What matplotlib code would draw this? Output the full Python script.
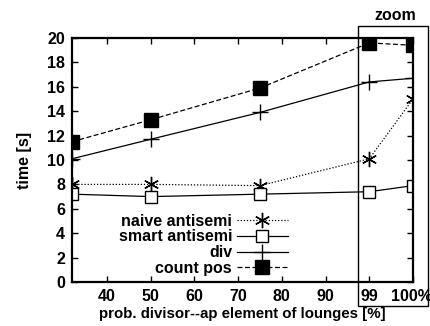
import matplotlib.pyplot as plt
import matplotlib.transforms as mtransforms
from matplotlib.patches import Rectangle
from matplotlib.scale import FuncScale
import numpy as np

plt.rcParams['font.family'] = ['Liberation Sans', 'DejaVu Sans']
plt.rcParams['font.weight'] = 'bold'
plt.rcParams['axes.labelweight'] = 'bold'

# Data
x = [32, 50, 75, 99, 100]
naive = [8.0, 8.0, 7.9, 10.1, 15.0]
smart = [7.2, 7.0, 7.2, 7.4, 7.9]
div = [10.1, 11.7, 13.9, 16.4, 16.7]
count_pos = [11.5, 13.3, 15.9, 19.6, 19.4]

xticks = [40, 50, 60, 70, 80, 90, 99, 100]
xticklabels = ['40', '50', '60', '70', '80', '90', '99', '100%']
yticks = [0, 2, 4, 6, 8, 10, 12, 14, 16, 18, 20]


# linear up to 90, then 90..99 stretched a bit, 99..100 zoomed
def fwd(v):
    v = np.asarray(v, dtype=float)
    return np.where(v <= 90, v, np.where(v <= 99, 90 + (v - 90) * 10 / 9, 100 + (v - 99) * 10))


def inv(p):
    p = np.asarray(p, dtype=float)
    return np.where(p <= 90, p, np.where(p <= 100, 90 + (p - 90) * 9 / 10, 99 + (p - 100) / 10))


fs = 11.5

fig = plt.figure(figsize=(4.31, 3.26), dpi=100)
ax = fig.add_axes([72 / 431, 44 / 326, 341 / 431, 244 / 326])
ax.set_xscale(FuncScale(ax.xaxis, (fwd, inv)))

ax.plot(x, naive, color='black', lw=0.9, ls=(0, (1, 1.5)),
        marker=(6, 2, 0), ms=11, mew=1.0, label='naive antisemi')
ax.plot(x, smart, color='black', lw=0.9, ls='-',
        marker='s', ms=8.5, mfc='white', mew=1.0, label='smart antisemi')
ax.plot(x, div, color='black', lw=0.9, ls='-',
        marker='+', ms=12, mew=1.0, label='div')
ax.plot(x, count_pos, color='black', lw=0.9, ls=(0, (4, 2)),
        marker='s', ms=9.5, mfc='black', label='count pos')

ax.set_xlim(32, 100)
ax.set_ylim(0, 20)
ax.set_xticks(xticks)
ax.set_xticklabels(xticklabels)
ax.set_yticks(yticks)
ax.minorticks_off()
ax.tick_params(direction='in', top=True, right=True, length=4, width=1,
               labelsize=fs, pad=5)
for s in ax.spines.values():
    s.set_linewidth(1.6)

# nudge "100%" a little left so it stays inside the figure
last = ax.get_xticklabels()[-1]
last.set_transform(last.get_transform() +
                   mtransforms.ScaledTranslation(-2 / 100, 0, fig.dpi_scale_trans))

ax.set_xlabel('prob. divisor--ap element of lounges [%]', fontsize=10.8, labelpad=2.5)
ax.set_ylabel('time [s]', fontsize=fs, labelpad=11)

leg = ax.legend(loc='lower right', bbox_to_anchor=(288 / 431, 50 / 326),
                bbox_transform=fig.transFigure, frameon=False, markerfirst=False,
                handlelength=3.2, handletextpad=0.3, labelspacing=0.05,
                borderpad=0, borderaxespad=0, fontsize=fs)

# zoom box around the stretched part
fig.patches.append(Rectangle((358 / 431, 20 / 326), 70 / 431, 280 / 326,
                             transform=fig.transFigure, fill=False,
                             lw=1.0, ec='black'))
fig.text(395 / 431, 1 - 15 / 326, 'zoom', ha='center', va='center', fontsize=fs)

fig.savefig('out.png', dpi=100)
